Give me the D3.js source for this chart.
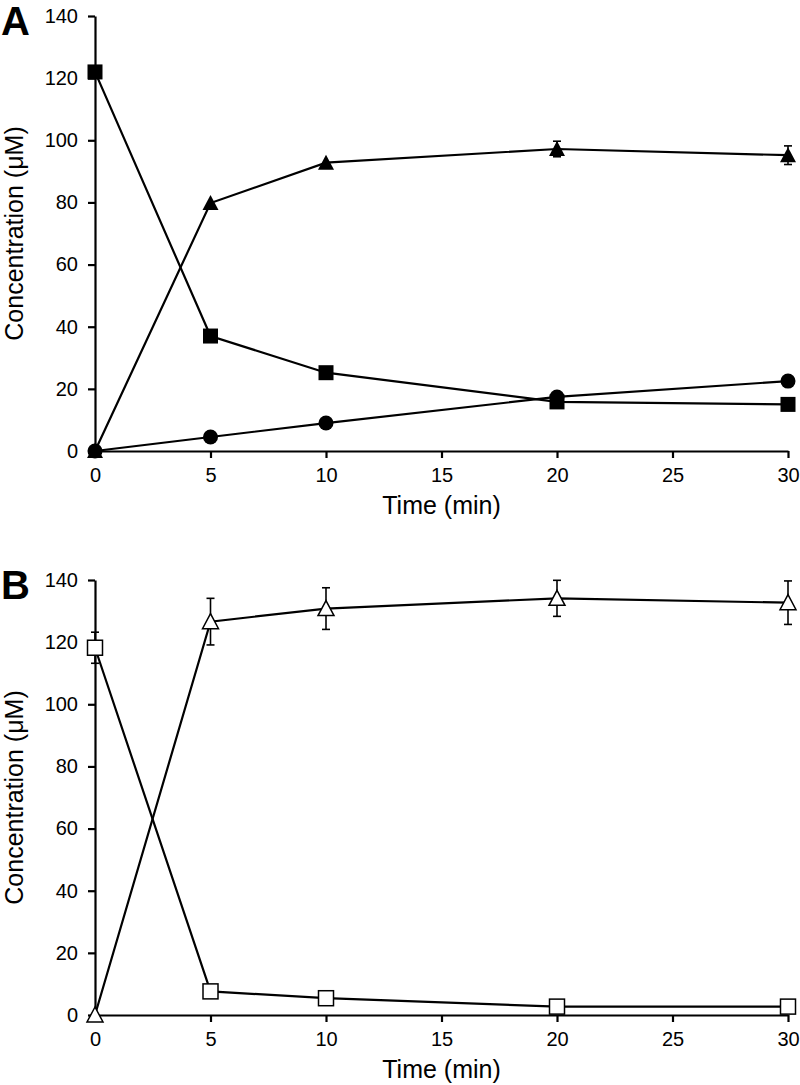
<!DOCTYPE html>
<html><head><meta charset="utf-8">
<script src="https://cdn.jsdelivr.net/npm/d3@7"></script>
<style>body{margin:0;background:#fff}svg{display:block}text{font-family:"Liberation Sans",Arial,sans-serif;fill:#000}</style>
</head><body>
<script>
const times = [0, 5, 10, 20, 30];
const xTicks = [0, 5, 10, 15, 20, 25, 30];
const yTicks = [0, 20, 40, 60, 80, 100, 120, 140];

// Panel A
const aSquare = [122, 37, 25.2, 15.8, 15];
const aTriangle = [0, 79.8, 92.8, 97.2, 95.2];
const aTriangleErr = [0, 0, 0, 2.5, 3];
const aCircle = [0, 4.5, 9, 17.4, 22.5];

// Panel B
const bSquare = [118.2, 7.6, 5.4, 2.7, 2.7];
const bSquareErr = [5, 0, 0, 0, 0];
const bTriangle = [0, 126.6, 130.8, 134.1, 132.7];
const bTriangleErr = [0, 7.5, 6.7, 5.8, 7];

const W = 800, H = 1085;
const svg = d3.select("body").append("svg").attr("width", W).attr("height", H);

const x = d3.scaleLinear().domain([0, 30]).range([95, 788]);

function panel(label, top, bottom, series) {
  const y = d3.scaleLinear().domain([0, 140]).range([bottom, top]);
  const g = svg.append("g");
  const xa = g.append("g").attr("transform", `translate(0,${bottom})`)
    .call(d3.axisBottom(x).tickValues(xTicks).tickSize(7).tickPadding(10).tickSizeOuter(0));
  const ya = g.append("g").attr("transform", `translate(95,0)`)
    .call(d3.axisLeft(y).tickValues(yTicks).tickSize(7).tickPadding(10).tickSizeOuter(0));
  [xa, ya].forEach(a => {
    a.select(".domain").attr("stroke", "#000").attr("stroke-width", 2.2);
    a.selectAll(".tick line").attr("stroke", "#000").attr("stroke-width", 2.2);
    a.selectAll(".tick text").style("font-size", "20px").attr("fill", "#000");
  });
  g.append("text").attr("x", (95 + 788) / 2).attr("y", bottom + 63)
    .attr("text-anchor", "middle").style("font-size", "25px").text("Time (min)");
  g.append("text").attr("transform", `translate(23,${(top + bottom) / 2}) rotate(-90)`)
    .attr("text-anchor", "middle").style("font-size", "25px").text("Concentration (μM)");
  g.append("text").attr("x", 1).attr("y", top + 19)
    .style("font-size", "40px").style("font-weight", "bold").text(label);

  const line = d3.line().x((d, i) => x(times[i])).y(d => y(d));
  series.forEach(s => {
    g.append("path").datum(s.values).attr("d", line)
      .attr("fill", "none").attr("stroke", "#000").attr("stroke-width", 2.2);
  });
  series.forEach(s => {
    if (!s.err) return;
    s.values.forEach((v, i) => {
      const e = s.err[i];
      if (!e) return;
      const cx = x(times[i]);
      g.append("line").attr("x1", cx).attr("x2", cx).attr("y1", y(v - e)).attr("y2", y(v + e))
        .attr("stroke", "#000").attr("stroke-width", 1.6);
      [v - e, v + e].forEach(w => g.append("line").attr("x1", cx - 4).attr("x2", cx + 4)
        .attr("y1", y(w)).attr("y2", y(w)).attr("stroke", "#000").attr("stroke-width", 1.6));
    });
  });
  series.forEach(s => {
    s.values.forEach((v, i) => {
      const cx = x(times[i]), cy = y(v);
      let m;
      if (s.shape === "square") {
        m = g.append("rect").attr("x", cx - 7.5).attr("y", cy - 7.5).attr("width", 15).attr("height", 15);
      } else if (s.shape === "circle") {
        m = g.append("circle").attr("cx", cx).attr("cy", cy).attr("r", 7.5);
      } else {
        m = g.append("path").attr("d", `M${cx},${cy - 8}L${cx + 8},${cy + 7}L${cx - 8},${cy + 7}Z`);
      }
      m.attr("fill", s.open ? "#fff" : "#000").attr("stroke", "#000").attr("stroke-width", s.open ? 1.5 : 0);
    });
  });
}

panel("A", 16, 451, [
  { values: aTriangle, err: aTriangleErr, shape: "triangle" },
  { values: aSquare, shape: "square" },
  { values: aCircle, shape: "circle" }
]);
panel("B", 580, 1015, [
  { values: bSquare, err: bSquareErr, shape: "square", open: true },
  { values: bTriangle, err: bTriangleErr, shape: "triangle", open: true }
]);
</script>
</body></html>
